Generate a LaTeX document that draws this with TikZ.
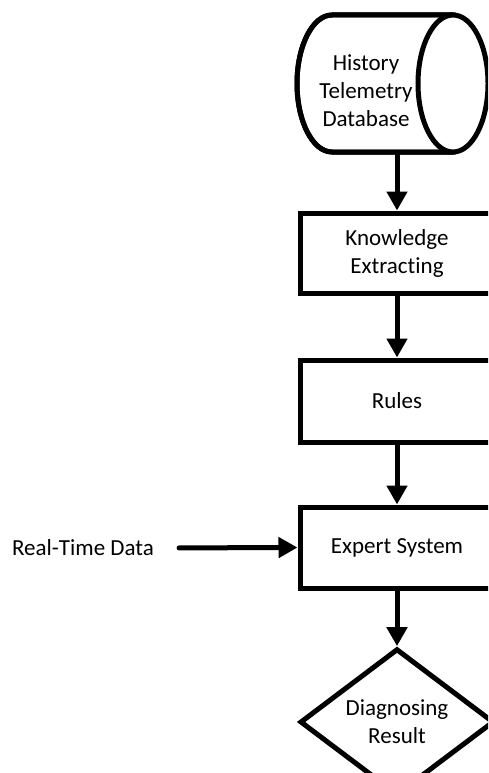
\documentclass[tikz,border=0pt]{standalone}
\usepackage{fontspec}
\setmainfont{Carlito}[Ligatures=NoCommon]
\usetikzlibrary{arrows.meta,shapes.geometric}

\tikzset{
  flowline/.style={line width=5pt, draw=black},
  flowarrow/.style={flowline, -{Triangle[width=20pt,length=19pt]}},
  procbox/.style={flowline, fill=white, rectangle, minimum width=194pt,
    inner sep=0pt, align=center, font=\fontsize{23}{28}\selectfont},
  decision/.style={flowline, fill=white, diamond, minimum width=194pt,
    minimum height=106pt, inner sep=0pt, align=center,
    font=\fontsize{23}{28}\selectfont},
  plainlabel/.style={inner sep=0pt, font=\fontsize{23}{28}\selectfont},
}

\begin{document}
\begin{tikzpicture}[x=1pt, y=-1pt]
  \useasboundingbox (0,0) rectangle (488,773);
  \clip (0,0) rectangle (488,773);

  % database drum lying on its side
  \path[flowline, fill=white]
    (332,15) -- (453,15) -- (453,152) -- (332,152)
    arc[start angle=270, end angle=90, x radius=35pt, y radius=68.5pt] -- cycle;
  \draw[flowline] (453,15) -- (332,15)
    arc[start angle=90, end angle=270, x radius=35pt, y radius=68.5pt]
    -- (453,152);
  \draw[flowline, fill=white] (453,83.5) ellipse[x radius=35pt, y radius=68.5pt];
  \node[plainlabel, align=center] (db) at (366,91) {History\\Telemetry\\Database};
  \coordinate (dbbottom) at (397,152);

  % processing steps
  \node[procbox, minimum height=80pt] (know) at (397,253) {Knowledge\\Extracting};
  \node[procbox, minimum height=82pt] (rules) at (397,401) {Rules};
  \node[procbox, minimum height=81pt] (expert) at (397,547.5) {Expert System};
  \node[decision] (result) at (397,722) {Diagnosing\\Result};

  % external input
  \node[plainlabel] (rt) at (83,548) {Real-Time Data};

  % connectors
  \draw[flowarrow] (dbbottom) -- (know.north);
  \draw[flowarrow] (know.south) -- (rules.north);
  \draw[flowarrow] (rules.south) -- (expert.north);
  \draw[flowarrow] (expert.south) -- (result.north);
  \draw[flowarrow, line cap=round, shorten <=25pt] (rt.east) -- (expert.west);
\end{tikzpicture}
\end{document}
